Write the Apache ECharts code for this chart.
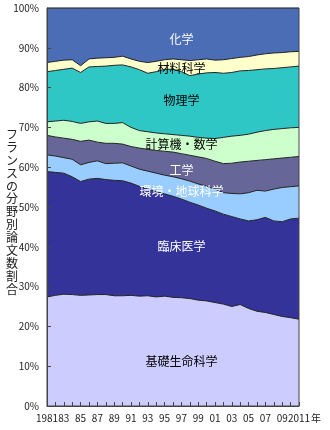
<!DOCTYPE html>
<html>
<head>
<meta charset="utf-8">
<script src="https://cdn.jsdelivr.net/npm/echarts@6/dist/echarts.min.js"></script>
<style>
  html, body { margin: 0; padding: 0; background: #fff; }
  #chart { width: 330px; height: 430px; }
</style>
</head>
<body>
<div id="chart"></div>
<script>
// Publication years
const years = ['1981','1982','1983','1984','1985','1986','1987','1988','1989','1990',
  '1991','1992','1993','1994','1995','1996','1997','1998','1999','2000',
  '2001','2002','2003','2004','2005','2006','2007','2008','2009','2010','2011'];

// Share of papers by field (%), stacked from the bottom up
const basicLife = [27.4,27.8,28.1,28.0,27.8,27.9,28.0,28.0,27.7,27.7,27.8,27.6,27.7,27.4,27.6,27.3,27.2,27.0,26.6,26.4,26.0,25.6,25.0,25.5,24.5,23.8,23.5,23.0,22.5,22.2,21.8];
const clinical  = [31.5,30.9,30.4,29.6,28.6,29.1,29.2,28.9,29.0,28.9,28.2,27.6,26.8,26.5,25.7,25.4,24.8,24.2,23.9,23.3,23.0,22.6,22.6,21.5,22.0,23.0,23.9,23.5,23.8,24.8,25.4];
const envEarth  = [4.2,4.1,3.9,4.4,4.2,4.2,4.4,4.0,4.3,4.5,4.3,4.3,4.5,4.6,4.7,4.9,5.1,5.3,5.3,5.5,5.5,5.4,5.8,6.3,7.1,7.4,6.6,8.0,8.6,8.1,8.1];
const engineering = [4.9,4.8,4.9,5.0,5.9,5.6,4.7,5.1,5.0,4.7,4.9,5.3,5.5,5.7,6.0,6.2,6.3,6.5,6.8,7.0,7.0,7.3,7.6,8.0,7.9,7.5,7.9,7.6,7.4,7.4,7.4];
const computerMath = [3.4,4.0,4.5,4.5,4.5,4.6,5.3,5.0,5.0,5.4,4.8,4.4,4.4,4.4,4.4,4.4,4.6,4.8,4.9,5.1,5.7,6.6,6.8,6.7,6.8,7.1,7.3,7.4,7.4,7.4,7.3];
const physics   = [12.6,12.7,12.8,13.4,12.8,13.8,13.7,14.4,14.6,14.5,15.2,15.3,14.7,15.4,16.2,16.4,16.0,15.2,15.9,16.4,16.6,16.1,16.0,16.2,16.0,15.7,15.5,15.3,15.3,15.3,15.4];
const materials = [2.3,2.3,2.3,2.1,1.7,2.0,2.1,2.1,2.0,2.2,2.0,2.1,2.7,2.6,2.4,2.6,3.0,3.8,3.6,3.5,3.1,3.4,3.5,3.4,3.5,3.7,3.8,3.9,3.8,3.8,3.7];
const chemistry = [13.7,13.4,13.1,13.0,14.5,12.8,12.6,12.5,12.4,12.1,12.8,13.4,13.7,13.4,13.0,12.8,13.0,13.2,13.0,12.8,13.1,13.0,12.7,12.4,12.2,11.8,11.5,11.3,11.2,11.0,10.9];

// Field names, in stacking order
const fieldNames = ['基礎生命科学','臨床医学','環境・地球科学','工学','計算機・数学','物理学','材料科学','化学'];
const fieldData = [basicLife, clinical, envEarth, engineering, computerMath, physics, materials, chemistry];
const fieldColors = ['#ccccff','#333399','#99ccff','#666699','#ccffcc','#2fc6c6','#ffffcc','#4a6db6'];
const labelColors = ['#000','#fff','#fff','#fff','#000','#000','#000','#fff'];

// In-area label anchors: [year, cumulative %]
const labelYear = '1997';
const labelPct = [11.1, 40.0, 54.0, 59.3, 65.6, 76.9, 84.8, 92.0];

const yTicks = [0,10,20,30,40,50,60,70,80,90,100];
const axisTitle = 'フランスの分野別論文数割合';

const chart = echarts.init(document.getElementById('chart'), null, { renderer: 'canvas' });

const series = fieldNames.map((name, i) => ({
  name: name,
  type: 'line',
  stack: 'total',
  data: fieldData[i],
  symbol: 'none',
  smooth: false,
  lineStyle: { width: 1, color: '#222' },
  areaStyle: { color: fieldColors[i], opacity: 1 },
  itemStyle: { color: fieldColors[i] },
  z: 2
}));

const font = '"Noto Sans CJK JP", "Liberation Sans", sans-serif';

chart.setOption({
  animation: false,
  backgroundColor: '#fff',
  grid: {
    left: 47, right: 31, top: 8, bottom: 24,
    containLabel: false,
    outerBoundsMode: 'none',
    show: true, borderColor: '#444', borderWidth: 1, backgroundColor: 'transparent', z: 5
  },
  xAxis: {
    type: 'category',
    data: years,
    boundaryGap: false,
    axisLine: { lineStyle: { color: '#444' } },
    axisTick: { inside: true, length: 4, interval: 0, lineStyle: { color: '#444' } },
    axisLabel: {
      interval: 1,
      showMinLabel: true,
      showMaxLabel: true,
      hideOverlap: false,
      fontSize: 10,
      color: '#222',
      margin: 7,
      fontFamily: font,
      formatter: v => (v === '1981' || v === '2011') ? v : v.slice(2)
    },
    splitLine: { show: false },
    z: 10
  },
  yAxis: {
    type: 'value',
    min: 0,
    max: 100,
    interval: 10,
    axisLine: { show: true, lineStyle: { color: '#444' } },
    axisTick: { show: true, inside: true, length: 4, lineStyle: { color: '#444' } },
    axisLabel: { fontSize: 10, color: '#222', margin: 8, fontFamily: font, formatter: v => yTicks.includes(v) ? v + '%' : '' },
    splitLine: { show: false },
    z: 10
  },
  series: series
});

// Field names placed inside their bands, positioned through the axes
const graphics = fieldNames.map((name, i) => {
  const p = chart.convertToPixel({ gridIndex: 0 }, [labelYear, labelPct[i]]);
  return {
    type: 'text',
    x: p[0],
    y: p[1],
    z: 20,
    style: {
      text: name,
      fill: labelColors[i],
      font: '12px ' + font,
      align: 'center',
      verticalAlign: 'middle'
    }
  };
});

// Unit mark after the last year label
const lastTick = chart.convertToPixel({ gridIndex: 0 }, [years[years.length - 1], 0]);
graphics.push({
  type: 'text',
  x: lastTick[0] + 12,
  y: lastTick[1] + 7,
  z: 20,
  style: { text: '年', fill: '#222', font: '10px ' + font, align: 'left', verticalAlign: 'top' }
});

// Vertical axis title, one character per line
const midY = chart.convertToPixel({ gridIndex: 0 }, [years[0], 48.8])[1];
graphics.push({
  type: 'text',
  x: 12,
  y: midY,
  z: 20,
  style: {
    text: axisTitle.split('').join('\n'),
    fill: '#222',
    font: '12px ' + font,
    lineHeight: 12.9,
    align: 'center',
    verticalAlign: 'middle'
  }
});
chart.setOption({ graphic: graphics });
</script>
</body>
</html>
